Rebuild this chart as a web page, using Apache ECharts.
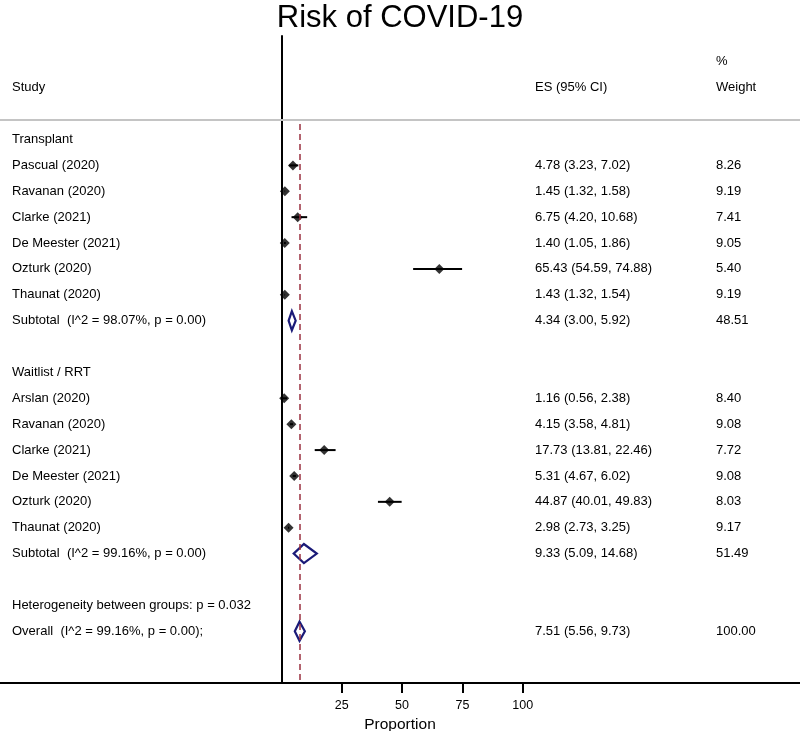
<!DOCTYPE html>
<html><head><meta charset="utf-8">
<script src="https://cdn.jsdelivr.net/npm/echarts@6/dist/echarts.min.js"></script>
<style>html,body{margin:0;padding:0;background:#fff}#c{width:800px;height:731px}</style>
</head><body><div id="c"></div>
<script>
// ---------- data ----------
const titleText = 'Risk of COVID-19';
const headerStudy = 'Study';
const headerES = 'ES (95% CI)';
const headerPct = '%';
const headerWeight = 'Weight';
const groupNames = ['Transplant', 'Waitlist / RRT'];

const transplantStudies = ['Pascual (2020)', 'Ravanan (2020)', 'Clarke (2021)', 'De Meester (2021)', 'Ozturk (2020)', 'Thaunat (2020)'];
const transplantES  = [4.78, 1.45, 6.75, 1.40, 65.43, 1.43];
const transplantLCI = [3.23, 1.32, 4.20, 1.05, 54.59, 1.32];
const transplantUCI = [7.02, 1.58, 10.68, 1.86, 74.88, 1.54];
const transplantWeight = [8.26, 9.19, 7.41, 9.05, 5.40, 9.19];

const waitlistStudies = ['Arslan (2020)', 'Ravanan (2020)', 'Clarke (2021)', 'De Meester (2021)', 'Ozturk (2020)', 'Thaunat (2020)'];
const waitlistES  = [1.16, 4.15, 17.73, 5.31, 44.87, 2.98];
const waitlistLCI = [0.56, 3.58, 13.81, 4.67, 40.01, 2.73];
const waitlistUCI = [2.38, 4.81, 22.46, 6.02, 49.83, 3.25];
const waitlistWeight = [8.40, 9.08, 7.72, 9.08, 8.03, 9.17];

const subtotalES  = [4.34, 9.33];
const subtotalLCI = [3.00, 5.09];
const subtotalUCI = [5.92, 14.68];
const subtotalWeight = [48.51, 51.49];
const subtotalI2 = ['98.07', '99.16'];
const subtotalP  = ['0.00', '0.00'];

const heterogeneityP = '0.032';
const overallES = 7.51, overallLCI = 5.56, overallUCI = 9.73, overallWeight = 100.00;
const overallI2 = '99.16', overallP = '0.00';

const xTickValues = [25, 50, 75, 100];
const xAxisName = 'Proportion';

// ---------- build rows ----------
const FONT = '"Liberation Sans", Arial, Helvetica, sans-serif';
const fmtCI = (e, l, u) => e.toFixed(2) + ' (' + l.toFixed(2) + ', ' + u.toFixed(2) + ')';

const groups = [
  {studies: transplantStudies, es: transplantES, lci: transplantLCI, uci: transplantUCI, w: transplantWeight},
  {studies: waitlistStudies, es: waitlistES, lci: waitlistLCI, uci: waitlistUCI, w: waitlistWeight}
];

const textRows = [
  {row: -2, study: headerStudy, es: headerES, wt: headerWeight},
  {row: -3, wt: headerPct}
];
const ciData = [], pointData = [], diamondData = [];
let row = 0;
groups.forEach((g, gi) => {
  textRows.push({row, study: groupNames[gi]});
  row++;
  g.studies.forEach((s, i) => {
    textRows.push({row, study: s, es: fmtCI(g.es[i], g.lci[i], g.uci[i]), wt: g.w[i].toFixed(2)});
    ciData.push([g.lci[i], g.uci[i], row]);
    pointData.push([g.es[i], row]);
    row++;
  });
  textRows.push({row, study: 'Subtotal  (I^2 = ' + subtotalI2[gi] + '%, p = ' + subtotalP[gi] + ')',
    es: fmtCI(subtotalES[gi], subtotalLCI[gi], subtotalUCI[gi]), wt: subtotalWeight[gi].toFixed(2)});
  diamondData.push([subtotalLCI[gi], subtotalES[gi], subtotalUCI[gi], row]);
  row++;
  row++; // blank line
});
textRows.push({row, study: 'Heterogeneity between groups: p = ' + heterogeneityP});
row++;
textRows.push({row, study: 'Overall  (I^2 = ' + overallI2 + '%, p = ' + overallP + ');',
  es: fmtCI(overallES, overallLCI, overallUCI), wt: overallWeight.toFixed(2)});
diamondData.push([overallLCI, overallES, overallUCI, row]);

// ---------- chart ----------
const chart = echarts.init(document.getElementById('c'), null, {renderer: 'canvas'});
const COL_STUDY = 12, COL_ES = 535, COL_WT = 716;
const NAVY = '#1a1a78';

const txt = (x, y, s) => ({type: 'text', x, y, silent: true,
  style: {text: s, fontSize: 13, fontFamily: FONT, fill: '#000', align: 'left', verticalAlign: 'middle'}});

const option = {
  animation: false,
  title: {text: titleText, left: 'center', top: 3, padding: 0,
    textStyle: {fontFamily: FONT, fontSize: 31, fontWeight: 'normal', color: '#000'}},
  grid: {left: 0, right: 0, top: 36, bottom: 48, containLabel: false, outerBoundsMode: 'none'},
  xAxis: {
    type: 'value', min: -116.6, max: 214.9,
    splitLine: {show: false},
    axisLine: {onZero: false, lineStyle: {color: '#000', width: 2}},
    axisTick: {show: true, customValues: xTickValues, length: 10, lineStyle: {color: '#000', width: 2}},
    axisLabel: {customValues: xTickValues, margin: 16, fontSize: 12.5, color: '#000', fontFamily: FONT},
    name: xAxisName, nameLocation: 'middle', nameGap: 31,
    nameTextStyle: {fontSize: 15.5, color: '#000', fontFamily: FONT}
  },
  yAxis: {
    type: 'value', inverse: true, min: -4, max: 21,
    splitLine: {show: false}, axisLabel: {show: false}, axisTick: {show: false},
    axisLine: {show: true, onZero: true, lineStyle: {color: '#000', width: 2}}
  },
  series: [
    { // header separator
      type: 'line', data: [], silent: true,
      markLine: {silent: true, symbol: 'none', label: {show: false},
        lineStyle: {color: '#c4c4c4', width: 2, type: 'solid'},
        data: [{yAxis: -0.75}]}
    },
    { // overall reference line
      type: 'line', data: [], silent: true,
      markLine: {silent: true, symbol: 'none', label: {show: false},
        lineStyle: {color: '#9b3040', width: 1.5, type: [6, 4]},
        data: [[{coord: [overallES, -0.6]}, {coord: [overallES, 21]}]]}
    },
    { // CI lines
      type: 'custom', silent: true, data: ciData,
      renderItem: (params, api) => {
        const a = api.coord([api.value(0), api.value(2)]);
        const b = api.coord([api.value(1), api.value(2)]);
        return {type: 'line', shape: {x1: a[0], y1: a[1], x2: b[0], y2: b[1]},
          style: {stroke: '#000', lineWidth: 2}};
      }
    },
    { // point estimates
      type: 'scatter', silent: true, data: pointData, symbol: 'diamond', symbolSize: 10,
      itemStyle: {color: '#000'}
    },
    { // pooled diamonds
      type: 'custom', silent: true, data: diamondData,
      renderItem: (params, api) => {
        const r = api.value(3);
        const l = api.coord([api.value(0), r]);
        const m = api.coord([api.value(1), r]);
        const u = api.coord([api.value(2), r]);
        const h = api.size([0, 1])[1] * 0.37;
        return {type: 'polygon', shape: {points: [[l[0], l[1]], [m[0], m[1] - h], [u[0], u[1]], [m[0], m[1] + h]]},
          style: {stroke: NAVY, lineWidth: 2.2, fill: 'rgba(0,0,0,0)'}};
      }
    },
    { // text columns
      type: 'custom', silent: true, clip: false,
      data: textRows.map(t => [0, t.row]),
      renderItem: (params, api) => {
        const t = textRows[params.dataIndex];
        const y = api.coord([0, api.value(1)])[1];
        const children = [];
        if (t.study) children.push(txt(COL_STUDY, y, t.study));
        if (t.es) children.push(txt(COL_ES, y, t.es));
        if (t.wt) children.push(txt(COL_WT, y, t.wt));
        return {type: 'group', children};
      }
    }
  ]
};
chart.setOption(option);
</script>
</body></html>
